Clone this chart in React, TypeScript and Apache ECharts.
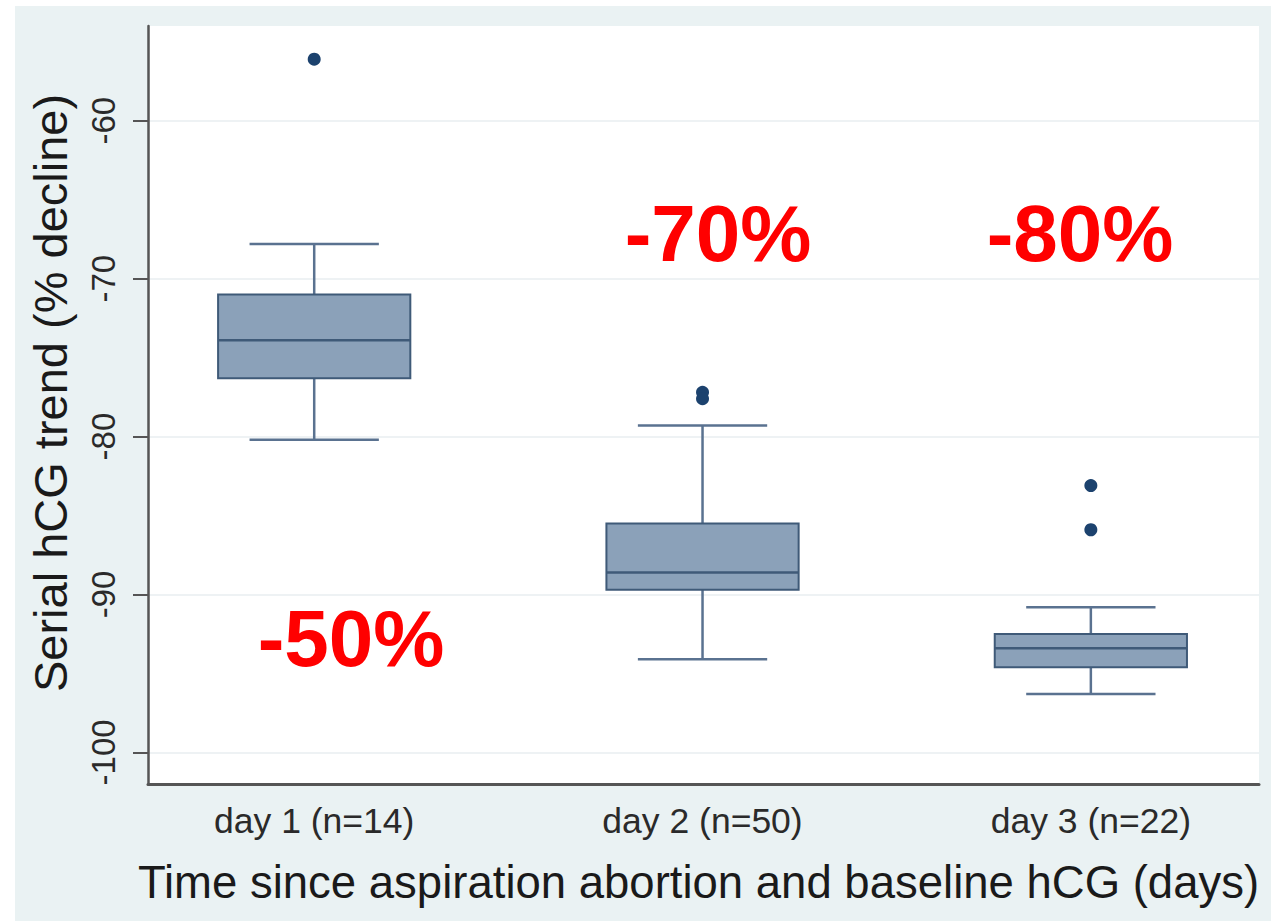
import React, { useEffect, useRef } from "react";
import * as echarts from "echarts";

const categories = ["day 1 (n=14)", "day 2 (n=50)", "day 3 (n=22)"];
const categoryX = [1, 2, 3];
const whiskerLow = [-80.2, -94.1, -96.3];
const q1 = [-76.3, -89.7, -94.6];
const median = [-73.9, -88.6, -93.4];
const q3 = [-71.0, -85.5, -92.5];
const whiskerHigh = [-67.8, -79.3, -90.8];
const outliers = [[-56.1], [-77.2, -77.6], [-83.1, -85.9]];
const yTicks = [-100, -90, -80, -70, -60];
const annotations = ["-50%", "-70%", "-80%"];

const FONT = '"Liberation Sans", Arial, Helvetica, sans-serif';
const BOX_W = 0.495;
const CAP_W = 0.333;

export default function App() {
  const ref = useRef<HTMLDivElement>(null);
  useEffect(() => {
    document.body.style.margin = "0";
    const chart = echarts.init(ref.current!, null, { renderer: "svg" });
    const boxData = categoryX.map((x, i) => [x, whiskerLow[i], q1[i], median[i], q3[i], whiskerHigh[i]]);
    const outlierData: number[][] = [];
    outliers.forEach((arr, i) => arr.forEach((v) => outlierData.push([categoryX[i], v])));
    const boxLine = "#3f5a78";
    const whiskerLine = "#5a7290";
    const annStyle = { font: `bold 80px ${FONT}`, fill: "#ff0000", textAlign: "center", textVerticalAlign: "middle" };
    chart.setOption({
      animation: false,
      backgroundColor: "#eaf2f3",
      grid: {
        left: 148,
        top: 26,
        right: 12,
        bottom: 137,
        show: true,
        backgroundColor: "#ffffff",
        borderWidth: 0,
      },
      xAxis: {
        type: "value",
        min: 0.572,
        max: 3.433,
        name: "Time since aspiration abortion and baseline hCG (days)",
        nameLocation: "middle",
        nameGap: 75,
        nameTextStyle: { fontFamily: FONT, fontSize: 45.5, color: "#1a1a1a", padding: [0, 0, 0, -10] },
        axisLine: { show: true, onZero: false, lineStyle: { color: "#555555", width: 3 } },
        axisTick: { show: false },
        splitLine: { show: false },
        axisLabel: {
          customValues: categoryX,
          formatter: (v: number) => categories[categoryX.indexOf(Math.round(v))] ?? "",
          fontFamily: FONT,
          fontSize: 35.5,
          color: "#2a2a2a",
          margin: 19,
        },
      },
      yAxis: {
        type: "value",
        min: -102,
        max: -54,
        name: "Serial hCG trend (% decline)",
        nameLocation: "middle",
        nameGap: 74,
        nameTextStyle: { fontFamily: FONT, fontSize: 47, color: "#1a1a1a", padding: [0, 0, 0, 24] },
        axisLine: { show: true, onZero: false, lineStyle: { color: "#555555", width: 2.5 } },
        axisTick: { show: true, customValues: yTicks, length: 15, lineStyle: { color: "#555555", width: 2 } },
        splitLine: { show: true, lineStyle: { color: "#eef2f4", width: 2 } },
        axisLabel: {
          customValues: yTicks,
          rotate: 90,
          fontFamily: FONT,
          fontSize: 33,
          color: "#2a2a2a",
          margin: 28,
        },
      },
      graphic: [
        { type: "rect", shape: { x: 0, y: 0, width: 1271, height: 6 }, style: { fill: "#ffffff" }, silent: true },
        { type: "rect", shape: { x: 0, y: 0, width: 15, height: 921 }, style: { fill: "#ffffff" }, silent: true },
        { type: "text", x: 351, y: 638, style: { text: annotations[0], ...annStyle }, z: 10 },
        { type: "text", x: 718, y: 233, style: { text: annotations[1], ...annStyle }, z: 10 },
        { type: "text", x: 1080, y: 233, style: { text: annotations[2], ...annStyle }, z: 10 },
      ],
      series: [
        {
          type: "custom",
          data: boxData,
          encode: { x: 0, y: [1, 2, 3, 4, 5] },
          renderItem: (params: any, api: any) => {
            const x = api.value(0);
            const lo = api.coord([x, api.value(1)]);
            const b1 = api.coord([x, api.value(2)]);
            const md = api.coord([x, api.value(3)]);
            const b3 = api.coord([x, api.value(4)]);
            const hi = api.coord([x, api.value(5)]);
            const bw = api.size([BOX_W, 0])[0];
            const cw = api.size([CAP_W, 0])[0];
            const cx = lo[0];
            const wStyle = { stroke: whiskerLine, lineWidth: 2.5 };
            return {
              type: "group",
              children: [
                { type: "line", shape: { x1: cx, y1: hi[1], x2: cx, y2: b3[1] }, style: wStyle },
                { type: "line", shape: { x1: cx, y1: b1[1], x2: cx, y2: lo[1] }, style: wStyle },
                { type: "line", shape: { x1: cx - cw / 2, y1: hi[1], x2: cx + cw / 2, y2: hi[1] }, style: wStyle },
                { type: "line", shape: { x1: cx - cw / 2, y1: lo[1], x2: cx + cw / 2, y2: lo[1] }, style: wStyle },
                {
                  type: "rect",
                  shape: { x: cx - bw / 2, y: b3[1], width: bw, height: b1[1] - b3[1] },
                  style: { fill: "#8ba1b9", stroke: boxLine, lineWidth: 2 },
                },
                { type: "line", shape: { x1: cx - bw / 2, y1: md[1], x2: cx + bw / 2, y2: md[1] }, style: { stroke: boxLine, lineWidth: 2.5 } },
              ],
            };
          },
          z: 3,
        },
        {
          type: "scatter",
          data: outlierData,
          symbol: "circle",
          symbolSize: 13,
          itemStyle: { color: "#1c426e", opacity: 1 },
          z: 4,
        },
      ],
    });
    return () => chart.dispose();
  }, []);
  return <div ref={ref} style={{ position: "fixed", left: 0, top: 0, width: 1271, height: 921 }} />;
}
